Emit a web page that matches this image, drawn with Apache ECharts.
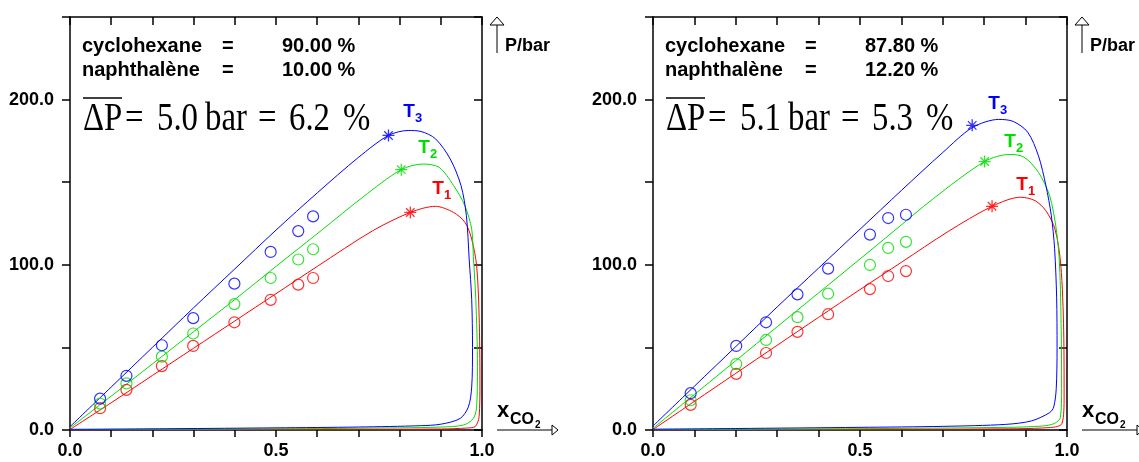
<!DOCTYPE html>
<html><head><meta charset="utf-8">
<style>html,body{margin:0;padding:0;background:#fff}#c{width:1139px;height:462px}</style>
</head><body><div id="c"></div>
<script src="https://cdn.jsdelivr.net/npm/echarts@6.0.0/dist/echarts.min.js"></script>
<script>
// ---------------- DATA ----------------
const xTickLabels = ['0.0', '0.5', '1.0'];
const yTickLabels = ['0.0', '100.0', '200.0'];
const tempNames = ['T1', 'T2', 'T3'];
const tempColors = ['#ff0000', '#00dd00', '#0000ff'];

// left panel: cyclohexane 90 %, naphthalene 10 %
const leftComposition = [['cyclohexane', '=', '90.00 %'], ['naphthalène', '=', '10.00 %']];
const leftDeltaP = ['5.0', '6.2'];
const leftT1Curve = [[0,0.3],[0.1,16.5],[0.2,33],[0.3,49.5],[0.4,66],[0.5,82.5],[0.6,99],[0.734,120.5],[0.826,131.7],[0.887,135.4],[0.931,131.7],[0.959,125.6],[0.975,115.5],[0.987,99.3],[0.993,69],[0.995,28.4],[0.993,8.1],[0.983,2],[0.963,1.2],[0.9,0.6],[0.5,0.2],[0,0]];
const leftT2Curve = [[0,1.2],[0.1,20.5],[0.2,40],[0.3,59.5],[0.4,79],[0.5,99],[0.611,121],[0.711,141],[0.804,157.6],[0.857,161],[0.896,159],[0.931,148],[0.958,136],[0.975,121.6],[0.979,105],[0.985,79],[0.989,38.5],[0.987,14],[0.979,7],[0.955,3],[0.9,1.8],[0.8,1.3],[0.5,0.7],[0,0.2]];
const leftT3Curve = [[0,2],[0.1,26],[0.2,50],[0.3,74],[0.4,97.5],[0.5,121],[0.6,143.5],[0.7,165],[0.773,178.3],[0.821,181.3],[0.852,180.7],[0.887,176.3],[0.923,164],[0.949,148],[0.962,130],[0.969,103],[0.975,79],[0.977,50],[0.975,26],[0.967,14],[0.947,7],[0.9,3.5],[0.85,2.6],[0.7,1.8],[0.5,1.3],[0.25,0.8],[0,0.4]];
const leftX = [0.073, 0.137, 0.223, 0.299, 0.399, 0.487, 0.554, 0.590];
const leftT1Exp = [13.2, 24.3, 38.7, 50.9, 65.2, 78.8, 88.0, 92.0];
const leftT2Exp = [16.0, 28.2, 44.4, 58.4, 76.2, 92.0, 103.2, 109.4];
const leftT3Exp = [19.0, 32.8, 51.3, 67.7, 88.6, 107.8, 120.4, 129.3];
const leftStars = [[0.826, 131.7], [0.804, 157.6], [0.773, 178.3]];

// right panel: cyclohexane 87.8 %, naphthalene 12.2 %
const rightComposition = [['cyclohexane', '=', '87.80 %'], ['naphthalène', '=', '12.20 %']];
const rightDeltaP = ['5.1', '5.3'];
const rightT1Curve = [[0,0.3],[0.1,17.3],[0.2,34.3],[0.3,51.3],[0.4,68.2],[0.5,85],[0.6,101.5],[0.712,120],[0.819,135.4],[0.888,140.9],[0.923,138.8],[0.949,132.7],[0.971,121.6],[0.985,100],[0.992,60],[0.993,20],[0.988,4],[0.96,1.5],[0.8,0.6],[0.4,0.2],[0,0]];
const rightT2Curve = [[0,1],[0.1,21.5],[0.2,42],[0.3,62.5],[0.4,83],[0.5,103.5],[0.58,120],[0.677,140],[0.801,162.5],[0.861,166.8],[0.896,165.2],[0.931,156],[0.958,141.8],[0.974,121.6],[0.982,100],[0.986,60],[0.987,25],[0.984,7.5],[0.97,4],[0.94,2.4],[0.85,1.6],[0.5,0.8],[0,0.2]];
const rightT3Curve = [[0,2.4],[0.1,26.5],[0.2,50.5],[0.3,74.5],[0.4,98],[0.5,121.5],[0.6,145],[0.7,168],[0.771,183],[0.835,188],[0.87,186.8],[0.905,180.3],[0.931,166],[0.949,148],[0.962,130],[0.97,110],[0.975,80],[0.976,50],[0.974,25],[0.968,14],[0.958,10.5],[0.914,5.5],[0.852,3.4],[0.7,2.2],[0.5,1.6],[0.2,0.9],[0,0.5]];
const rightX = [0.091, 0.201, 0.273, 0.349, 0.423, 0.524, 0.568, 0.611];
const rightT1Exp = [15.2, 34.0, 46.6, 59.4, 70.1, 85.3, 93.2, 96.2];
const rightT2Exp = [18.0, 39.9, 54.5, 68.3, 82.5, 99.9, 110.2, 113.9];
const rightT3Exp = [22.3, 50.9, 65.2, 82.1, 97.7, 118.3, 128.3, 130.3];
const rightStars = [[0.819, 135.4], [0.801, 162.5], [0.771, 184.4]];

// ---------------- CHART ----------------
const SANS = '"Liberation Sans", Arial, Helvetica, sans-serif';
const SERIF = '"Liberation Serif", "Times New Roman", serif';
const chart = echarts.init(document.getElementById('c'), null, {renderer: 'canvas'});

const grids = [
  {left: 70, width: 412, top: 17, height: 413},
  {left: 653, width: 414, top: 17, height: 413}
];

function fmtX(v) {
  const k = Math.round(v * 2);
  return Math.abs(v * 2 - k) < 1e-6 ? xTickLabels[k] : '';
}
function fmtY(v) {
  const k = Math.round(v / 100);
  return Math.abs(v - k * 100) < 1e-6 && k < yTickLabels.length ? yTickLabels[k] : '';
}
const axLine = {show: true, onZero: false, lineStyle: {color: '#000', width: 1.5}};
const xAxes = [], yAxes = [];
grids.forEach((g, i) => {
  xAxes.push({type: 'value', gridIndex: i, min: 0, max: 1, interval: 0.1, position: 'bottom',
    axisLine: axLine, axisTick: {show: true, inside: false, length: 7, lineStyle: {color: '#000', width: 1.5}},
    axisLabel: {formatter: fmtX, color: '#000', fontFamily: SANS, fontWeight: 'bold', fontSize: 18, margin: 12},
    splitLine: {show: false}});
  xAxes.push({type: 'value', gridIndex: i, min: 0, max: 1, interval: 0.1, position: 'top',
    axisLine: axLine, axisTick: {show: true, inside: true, length: 8, lineStyle: {color: '#000', width: 1.5}},
    axisLabel: {show: false}, splitLine: {show: false}});
  yAxes.push({type: 'value', gridIndex: i, min: 0, max: 250, interval: 50, position: 'left',
    axisLine: axLine, axisTick: {show: true, inside: false, length: 8, lineStyle: {color: '#000', width: 1.5}},
    axisLabel: {formatter: fmtY, color: '#000', fontFamily: SANS, fontWeight: 'bold', fontSize: 18, margin: 16},
    splitLine: {show: false}});
  yAxes.push({type: 'value', gridIndex: i, min: 0, max: 250, interval: 50, position: 'right',
    axisLine: axLine, axisTick: {show: true, inside: true, length: 8, lineStyle: {color: '#000', width: 1.5}},
    axisLabel: {show: false}, splitLine: {show: false}});
});

const starPath = 'path://M10,0 L10,20 M0,10 L20,10 M2.9,2.9 L17.1,17.1 M2.9,17.1 L17.1,2.9';
const panels = [
  {curves: [leftT1Curve, leftT2Curve, leftT3Curve], x: leftX, exp: [leftT1Exp, leftT2Exp, leftT3Exp], stars: leftStars},
  {curves: [rightT1Curve, rightT2Curve, rightT3Curve], x: rightX, exp: [rightT1Exp, rightT2Exp, rightT3Exp], stars: rightStars}
];
const series = [];
panels.forEach((p, pi) => {
  for (let t = 0; t < 3; t++) {
    const col = tempColors[t];
    series.push({type: 'line', name: tempNames[t], xAxisIndex: pi * 2, yAxisIndex: pi * 2,
      data: p.curves[t], showSymbol: false, smooth: 0.3, lineStyle: {color: col, width: 1}, silent: true, z: 3});
    series.push({type: 'scatter', xAxisIndex: pi * 2, yAxisIndex: pi * 2,
      data: p.x.map((x, k) => [x, p.exp[t][k]]), symbol: 'circle', symbolSize: 11,
      itemStyle: {color: 'rgba(0,0,0,0)', borderColor: col, borderWidth: 1.2}, silent: true, z: 4});
    series.push({type: 'scatter', xAxisIndex: pi * 2, yAxisIndex: pi * 2,
      data: [p.stars[t]], symbol: starPath, symbolSize: 12,
      itemStyle: {color: 'rgba(0,0,0,0)', borderColor: col, borderWidth: 1.3}, silent: true, z: 5});
  }
});

// ---------------- ANNOTATIONS ----------------
const graphic = [];
function txt(x, y, s, font, fill, align, valign, sx) {
  graphic.push({type: 'text', x: x, y: y, scaleX: sx || 1, silent: true, z: 10,
    style: {text: s, font: font, fill: fill || '#000', textAlign: align || 'left', textVerticalAlign: valign || 'middle'}});
}
function line(x1, y1, x2, y2, w) {
  graphic.push({type: 'line', silent: true, z: 10, shape: {x1, y1, x2, y2}, style: {stroke: '#000', lineWidth: w || 1}});
}
function tri(points) {
  graphic.push({type: 'polygon', silent: true, z: 10, shape: {points}, style: {fill: '#fff', stroke: '#000', lineWidth: 1}});
}
const comps = [leftComposition, rightComposition];
const dps = [leftDeltaP, rightDeltaP];
const tLabelPos = [
  [[438, 189], [424, 148], [409, 112]],
  [[1022, 185], [1010, 142], [994, 104]]
];
grids.forEach((g, i) => {
  const L = g.left, R = g.left + g.width;
  comps[i].forEach((row, r) => {
    const y = 46 + r * 24;
    txt(L + 12, y, row[0], 'bold 20px ' + SANS);
    txt(L + 152, y, row[1], 'bold 20px ' + SANS);
    txt(L + 212, y, row[2], 'bold 20px ' + SANS);
  });
  // Delta P formula (tall, narrow serif)
  const by = 139.5, F = '40px ' + SERIF, S = 0.82;
  txt(L + 13, by, 'ΔP', F, '#000', 'left', 'bottom', S);
  line(L + 13, 98, L + 52, 98, 1.5);
  txt(L + 55, by, '=', F, '#000', 'left', 'bottom', S);
  txt(L + 87, by, dps[i][0], F, '#000', 'left', 'bottom', S);
  txt(L + 135, by, 'bar', F, '#000', 'left', 'bottom', S);
  txt(L + 188, by, '=', F, '#000', 'left', 'bottom', S);
  txt(L + 219, by, dps[i][1], F, '#000', 'left', 'bottom', S);
  txt(L + 273, by, '%', F, '#000', 'left', 'bottom', S);
  // P/bar arrow
  const ax = R + 15;
  line(ax, 25, ax, 53, 1);
  tri([[ax - 7, 25], [ax, 17], [ax + 7, 25]]);
  txt(ax + 8, 46, 'P/bar', 'bold 18px ' + SANS);
  // x_CO2 arrow
  line(R + 15, 430, R + 70, 430, 1);
  tri([[R + 70, 425], [R + 76, 430], [R + 70, 435]]);
  txt(R + 15, 411, 'x', 'bold 22px ' + SANS);
  txt(R + 28, 420, 'CO', 'bold 16px ' + SANS);
  txt(R + 53, 425, '2', 'bold 10px ' + SANS);
  // temperature labels
  for (let t = 0; t < 3; t++) {
    const p = tLabelPos[i][t];
    txt(p[0], p[1], 'T', 'bold 19px ' + SANS, tempColors[t], 'center');
    txt(p[0] + 6, p[1] + 6, String(t + 1), 'bold 13px ' + SANS, tempColors[t], 'left');
  }
});

chart.setOption({
  animation: false,
  backgroundColor: '#fff',
  grid: grids,
  xAxis: xAxes,
  yAxis: yAxes,
  series: series,
  graphic: graphic
});
</script>
</body></html>
